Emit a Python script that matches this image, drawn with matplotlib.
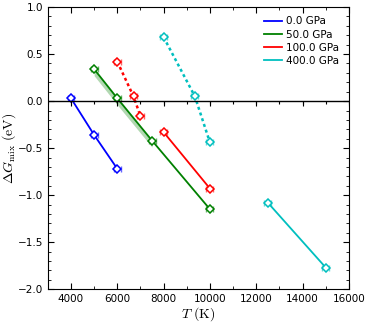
import numpy as np
import matplotlib.pyplot as plt

plt.rcParams['mathtext.fontset'] = 'cm'

# 0 GPa
t0 = [4000, 5000, 6000]
g0 = [0.03, -0.36, -0.72]
# 50 GPa
t50 = [5000, 6000, 7500, 10000]
g50 = [0.34, 0.03, -0.42, -1.15]
# 100 GPa (dotted part, solid part)
t100a = [6000, 6700, 7000]
g100a = [0.42, 0.05, -0.16]
t100b = [8000, 10000]
g100b = [-0.33, -0.93]
# 400 GPa
t400a = [8000, 9350, 10000]
g400a = [0.68, 0.05, -0.44]
t400b = [12500, 15000]
g400b = [-1.08, -1.77]

terr = 150
major_x = np.arange(4000, 16001, 2000)
minor_x = np.arange(3000, 16001, 1000)

fig = plt.figure(figsize=(3.68, 3.22), dpi=100)
ax = fig.add_axes([0.130, 0.102, 0.818, 0.876])

def series(t, g, c, ls, label=None):
    if ls == "-":
        ax.plot(t, g, color=c, linestyle="-", linewidth=1.3, label=label)
    else:
        ax.plot(t, g, color=c, linestyle=(0, (1.2, 1.2)), linewidth=1.8, label=label)
    ax.errorbar(t, g, xerr=terr, fmt="none", ecolor=c, elinewidth=1.5,
                capsize=2.5, capthick=1.0, alpha=0.6)
    ax.plot(t, g, linestyle="none", marker="D", markersize=3.8,
            mfc="white", mec=c, mew=1.1)

series(t0, g0, "blue", "-", "0.0 GPa")
series(t50, g50, "green", "-", "50.0 GPa")
# shaded band next to the 50 GPa line
tb = np.array(t50[:3])
gb = np.array(g50[:3])
ax.fill_between(tb, gb - 0.07, gb, color="green", alpha=0.3, lw=0)
series(t100a, g100a, "red", ":")
series(t100b, g100b, "red", "-", "100.0 GPa")
series(t400a, g400a, "c", ":")
series(t400b, g400b, "c", "-", "400.0 GPa")

# zero line with small ticks hanging below it
ax.axhline(0, color="black", linewidth=1)
ax.vlines(minor_x, -0.035, 0, color="black", linewidth=0.8)
ax.vlines(major_x, -0.055, 0, color="black", linewidth=0.8)

ax.set_xlim(3000, 16000)
ax.set_ylim(-2.0, 1.0)
ax.set_xticks(major_x)
ax.set_xticks(minor_x, minor=True)
ax.set_yticks(np.arange(-2.0, 1.01, 0.5))
ax.set_yticks(np.arange(-2.0, 1.01, 0.1), minor=True)
ax.tick_params(which="both", direction="in", top=True, right=True, labelsize=7.5)
ax.tick_params(which="major", length=4)
ax.tick_params(which="minor", length=2.5)

ax.set_xlabel(r"$T\ (\mathrm{K})$", fontsize=10, labelpad=1)
ax.set_ylabel(r"$\Delta G_{\mathrm{mix}}\ (\mathrm{eV})$", fontsize=10, labelpad=0)

ax.legend(loc="upper right", frameon=False, fontsize=7.5, handlelength=1.8,
          handletextpad=0.4, labelspacing=0.3)

plt.savefig("out.png", dpi=100)
